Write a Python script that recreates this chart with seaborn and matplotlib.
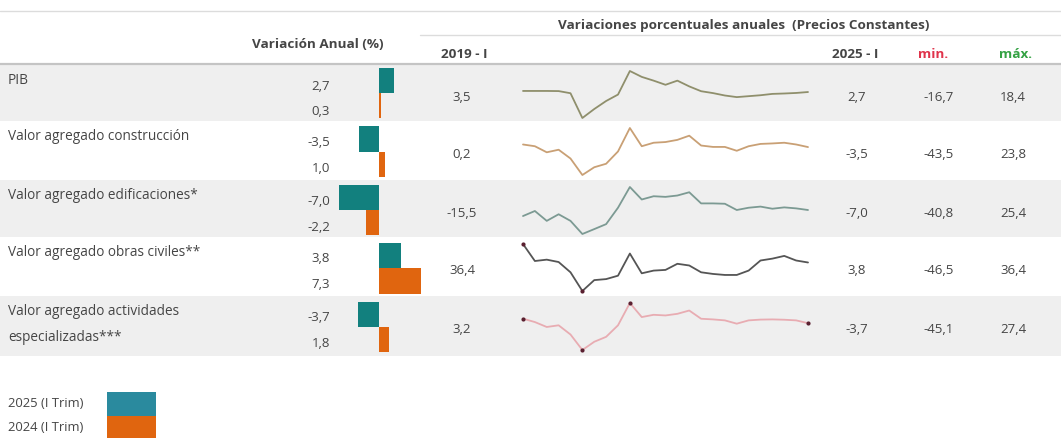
import matplotlib
matplotlib.use("Agg")
import numpy as np
import pandas as pd
import matplotlib.pyplot as plt
import seaborn as sns
from matplotlib.patches import Rectangle

# ==================================================
# DATA
# ==================================================

categorias = [
    "PIB",
    "Valor agregado construcción",
    "Valor agregado edificaciones*",
    "Valor agregado obras civiles**",
    "Valor agregado actividades\nespecializadas***",
]
var_2025 = [2.7, -3.5, -7.0, 3.8, -3.7]
var_2024 = [0.3, 1.0, -2.2, 7.3, 1.8]
inicio_2019 = [3.5, 0.2, -15.5, 36.4, 3.2]
fin_2025 = [2.7, -3.5, -7.0, 3.8, -3.7]
minimos = [-16.7, -43.5, -40.8, -46.5, -45.1]
maximos = [18.4, 23.8, 25.4, 36.4, 27.4]

# 2019-I ... 2025-I (25 trimestres)
trimestres = [f"{a}-{q}" for a in range(2019, 2026) for q in ("I", "II", "III", "IV")][:25]

serie_pib = [3.5, 3.5, 3.5, 3.4, 1.8, -16.7, -10.0, -4.0, 0.8, 18.4, 14.0, 11.2, 8.1,
             11.2, 6.9, 3.3, 1.9, 0.1, -1.1, -0.4, 0.3, 1.3, 1.6, 2.0, 2.7]
serie_construccion = [0.2, -2.3, -11.0, -7.3, -19.9, -43.5, -32.4, -27.4, -9.8, 23.8, -2.3, 2.7, 3.7,
                      6.8, 12.8, -1.3, -3.3, -3.3, -8.8, -2.3, 1.0, 1.7, 2.7, 0.2, -3.5]
serie_edificaciones = [-15.5, -8.4, -22.3, -13.0, -22.3, -40.8, -33.9, -26.9, -3.8, 25.4, 7.8, 12.4, 11.5,
                       13.4, 18.0, 2.3, 2.3, 1.8, -7.0, -3.8, -2.2, -5.2, -3.3, -4.7, -7.0]
serie_obras = [36.4, 6.4, 8.8, 4.6, -13.5, -46.5, -27.3, -25.5, -19.5, 19.6, -15.3, -10.5, -9.3,
               1.5, -1.5, -13.5, -16.4, -18.2, -18.2, -10.5, 7.3, 10.6, 15.4, 7.3, 3.8]
serie_actividades = [3.2, -2.0, -9.6, -7.0, -21.2, -45.1, -32.4, -24.8, -7.0, 27.4, 5.7, 9.2, 8.2,
                     10.7, 15.8, 3.1, 2.1, 0.6, -4.5, 0.6, 1.8, 2.1, 1.6, 0.6, -3.7]

series = [serie_pib, serie_construccion, serie_edificaciones, serie_obras, serie_actividades]

# ==================================================
# STYLE / LAYOUT (pixels)
# ==================================================

sns.set_theme(style="white")
plt.rcParams["font.family"] = ["Open Sans", "DejaVu Sans"]

W, H = 1061, 439
TXT = "#454545"
TEAL = "#12807e"
ORANGE = "#e0650f"
FS_HEAD = 9.7
FS_LABEL = 9.8
FS_NUM = 9.5
line_colors = ["#8f8f6c", "#c9a075", "#7c9a93", "#555555", "#e8acb2"]
row_tops = [65, 122, 181, 238, 297]
row_bottom = 357


def rect(x0, y0, x1, y1):
    return [x0 / W, 1 - y1 / H, (x1 - x0) / W, (y1 - y0) / H]


def fmt(v):
    return f"{v:.1f}".replace(".", ",")


fig = plt.figure(figsize=(W / 100, H / 100), dpi=100)
fig.patch.set_facecolor("white")

# background axes in pixel coordinates
bg = fig.add_axes([0, 0, 1, 1], zorder=0)
bg.set_xlim(0, W)
bg.set_ylim(H, 0)
bg.axis("off")

edges = row_tops + [row_bottom]
for i in range(len(categorias)):
    if i % 2 == 0:
        bg.axhspan(edges[i], edges[i + 1], color="#efefef", lw=0)

bg.plot([0, W], [12, 12], color="#dcdcdc", lw=1)
bg.plot([420, W], [36, 36], color="#dcdcdc", lw=1)
bg.plot([0, W], [65, 65], color="#c4c4c4", lw=1.6)

# headers
bg.text(318, 45, "Variación Anual (%)", ha="center", va="center", fontsize=FS_HEAD, fontweight="bold", color=TXT)
bg.text(744, 26, "Variaciones porcentuales anuales  (Precios Constantes)", ha="center", va="center",
        fontsize=FS_HEAD, fontweight="bold", color=TXT)
bg.text(464, 55, "2019 - I", ha="center", va="center", fontsize=FS_HEAD, fontweight="bold", color=TXT)
bg.text(855, 55, "2025 - I", ha="center", va="center", fontsize=FS_HEAD, fontweight="bold", color=TXT)
bg.text(933, 55, "min.", ha="center", va="center", fontsize=FS_HEAD, fontweight="bold", color="#e0344c")
bg.text(1015, 55, "máx.", ha="center", va="center", fontsize=FS_HEAD, fontweight="bold", color="#35a244")

# row texts
for i, cat in enumerate(categorias):
    top = row_tops[i]
    for j, line in enumerate(cat.split("\n")):
        bg.text(8, top + 15 + 26 * j, line, ha="left", va="center", fontsize=FS_LABEL, color=TXT)
    bg.text(330, top + 21, fmt(var_2025[i]), ha="right", va="center", fontsize=FS_NUM, color=TXT)
    bg.text(330, top + 47, fmt(var_2024[i]), ha="right", va="center", fontsize=FS_NUM, color=TXT)
    bg.text(462, top + 33, fmt(inicio_2019[i]), ha="center", va="center", fontsize=FS_NUM, color=TXT)
    bg.text(857, top + 33, fmt(fin_2025[i]), ha="center", va="center", fontsize=FS_NUM, color=TXT)
    bg.text(939, top + 33, fmt(minimos[i]), ha="center", va="center", fontsize=FS_NUM, color=TXT)
    bg.text(1013, top + 33, fmt(maximos[i]), ha="center", va="center", fontsize=FS_NUM, color=TXT)

# legend
bg.text(8, 404, "2025 (I Trim)", ha="left", va="center", fontsize=9.4, color=TXT)
bg.text(8, 428, "2024 (I Trim)", ha="left", va="center", fontsize=9.4, color=TXT)
bg.add_patch(Rectangle((107, 393), 49, 24, color="#2a8a9e", lw=0))
bg.add_patch(Rectangle((107, 417), 49, 22, color=ORANGE, lw=0))

# ==================================================
# BARS (Variación anual)
# ==================================================

bars = pd.DataFrame({
    "categoria": list(range(len(categorias))) * 2,
    "valor": var_2025 + var_2024,
    "periodo": ["2025"] * len(categorias) + ["2024"] * len(categorias),
})

zero_px, px_per_unit = 379, 5.7
bx0, bx1 = 330, 432
ax_bar = fig.add_axes(rect(bx0, row_tops[0], bx1, row_bottom), zorder=2)
ax_bar.patch.set_alpha(0)
sns.barplot(
    data=bars, y="categoria", x="valor", hue="periodo", orient="h",
    hue_order=["2025", "2024"], palette=[TEAL, ORANGE], width=0.86,
    order=list(range(len(categorias))), legend=False, ax=ax_bar,
    linewidth=0, saturation=1,
)
ax_bar.set_xlim((bx0 - zero_px) / px_per_unit, (bx1 - zero_px) / px_per_unit)
ax_bar.set_ylim(len(categorias) - 0.5, -0.5)
ax_bar.axis("off")

# ==================================================
# SPARKLINES
# ==================================================

for i, s in enumerate(series):
    top = row_tops[i]
    ax = fig.add_axes(rect(523, top + 7, 808, top + 54), zorder=2)
    ax.patch.set_alpha(0)
    df = pd.DataFrame({"t": range(len(trimestres)), "v": s})
    sns.lineplot(data=df, x="t", y="v", color=line_colors[i], lw=1.3, ax=ax, clip_on=False)
    ax.set_xlim(0, len(trimestres) - 1)
    ax.set_ylim(min(s), max(s))
    ax.axis("off")

    if i in (3, 4):
        pts = [0, int(np.argmin(s))]
        if i == 4:
            pts += [int(np.argmax(s)), len(s) - 1]
        sns.scatterplot(x=pts, y=[s[p] for p in pts], color="#5a2030",
                        s=9, linewidth=0, ax=ax, clip_on=False, zorder=3)

fig.savefig("out.png", dpi=100, facecolor="white")
